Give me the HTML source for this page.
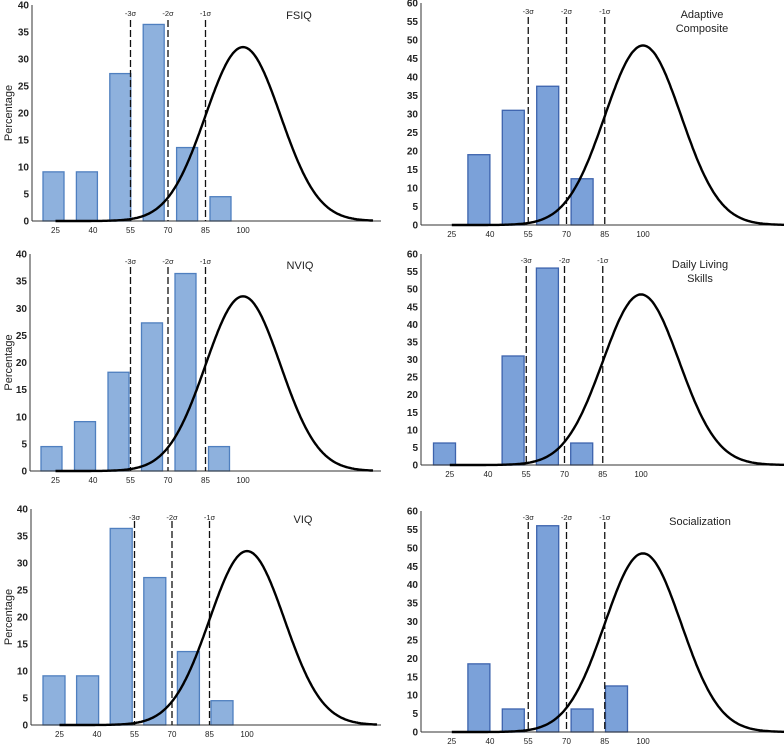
<!DOCTYPE html>
<html><head><meta charset="utf-8">
<style>
html,body{margin:0;padding:0;background:#fff;}
svg{display:block;font-family:"Liberation Sans",sans-serif;}
</style></head>
<body>
<svg id="chart" width="784" height="744" viewBox="0 0 784 744" xmlns="http://www.w3.org/2000/svg"></svg>
<script>
const categories = ["<25","25-40","40-55","55-70","70-85","85-100"];
const fsiqValues = [9.1, 9.1, 27.3, 36.4, 13.6, 4.5];
const nviqValues = [4.5, 9.1, 18.2, 27.3, 36.4, 4.5];
const viqValues = [9.1, 9.1, 36.4, 27.3, 13.6, 4.5];
const adaptiveValues = [0, 19, 31, 37.5, 12.5, 0];
const dailyLivingValues = [6.25, 0, 31, 56, 6.25, 0];
const socializationValues = [0, 18.5, 6.25, 56, 6.25, 12.5];
const xTickLabels = [25, 40, 55, 70, 85, 100];
const sigmaValues = [55, 70, 85];
const sigmaLabels = ["-3σ", "-2σ", "-1σ"];
const curveMean = 100, curveSd = 15;
const leftCurvePeak = 32.2, rightCurvePeak = 48.5;
const leftYMax = 40, rightYMax = 60;

const panels = [
 {id:"fsiq", title:["FSIQ"], vals:fsiqValues, ymax:leftYMax, peak:leftCurvePeak, ox:32, y0:221, yt:5, mpx:243, k:2.5, bs:43, st:33.4, bw:21, dt:20, sl:16, tx:299, ty:19, ae:381, left:true},
 {id:"nviq", title:["NVIQ"], vals:nviqValues, ymax:leftYMax, peak:leftCurvePeak, ox:30, y0:471, yt:254, mpx:243, k:2.5, bs:41, st:33.5, bw:21, dt:267, sl:264, tx:300, ty:269, ae:381, left:true},
 {id:"viq", title:["VIQ"], vals:viqValues, ymax:leftYMax, peak:leftCurvePeak, ox:31, y0:725, yt:509, mpx:247, k:2.5, bs:43, st:33.6, bw:22, dt:521, sl:520, tx:303, ty:523, ae:381, left:true},
 {id:"adaptive", title:["Adaptive","Composite"], vals:adaptiveValues, ymax:rightYMax, peak:rightCurvePeak, ox:421, y0:225, yt:3, mpx:643, k:2.55, bs:433.5, st:34.4, bw:22, dt:17, sl:14, tx:702, ty:18, ae:775, left:false},
 {id:"daily-living", title:["Daily Living","Skills"], vals:dailyLivingValues, ymax:rightYMax, peak:rightCurvePeak, ox:421, y0:465, yt:254, mpx:641, k:2.55, bs:433.5, st:34.3, bw:22, dt:266, sl:263, tx:700, ty:268, ae:775, left:false},
 {id:"socialization", title:["Socialization"], vals:socializationValues, ymax:rightYMax, peak:rightCurvePeak, ox:421, y0:732, yt:511, mpx:643, k:2.55, bs:433.5, st:34.4, bw:22, dt:522, sl:520, tx:700, ty:525, ae:775, left:false}
];

const NS = "http://www.w3.org/2000/svg";
const svg = document.getElementById("chart");
function mk(tag, attrs, parent){
  const e = document.createElementNS(NS, tag);
  for (const a in attrs) e.setAttribute(a, attrs[a]);
  (parent||svg).appendChild(e);
  return e;
}

panels.forEach(p => {
  const g = mk("g", {});
  
  
  const y = v => p.y0 - (v / p.ymax) * (p.y0 - p.yt);
  const x = iq => p.mpx + (iq - curveMean) * p.k;
  const fill = p.left ? "#8eb1dd" : "#7ba1d9";
  const stroke = p.left ? "#4f7fbf" : "#3d63ad";

  // bars
  p.vals.forEach((v, i) => {
    if (v <= 0) return;
    const r = mk("rect", {x: p.bs + i*p.st, y: y(v), width: p.bw, height: p.y0 - y(v), fill: fill, stroke: stroke, "stroke-width": 1.3}, g);
    
    
  });

  // axes
  const ya = mk("line", {x1:p.ox, y1:p.yt, x2:p.ox, y2:p.y0, stroke:"#333", "stroke-width":1}, g);
  
  
  const xa = mk("line", {x1:p.ox, y1:p.y0, x2:p.ae, y2:p.y0, stroke:"#333", "stroke-width":1}, g);
  
  

  for (let v = 0; v <= p.ymax; v += 5) {
    const t = mk("text", {x:p.ox - 3, y:y(v) + 3.5, "text-anchor":"end", "font-size":10, "font-weight":"bold", fill:"#222"}, g);
    t.textContent = v;
    
    
  }
  xTickLabels.forEach(v => {
    const t = mk("text", {x:x(v), y:p.y0 + 12, "text-anchor":"middle", "font-size":8, fill:"#222"}, g);
    t.textContent = v;
    
    
  });

  // sigma lines
  sigmaValues.forEach((v, i) => {
    const l = mk("line", {x1:x(v), y1:p.dt, x2:x(v), y2:p.y0, stroke:"#111", "stroke-width":1.3, "stroke-dasharray":"7,3"}, g);
    
    
    const t = mk("text", {x:x(v), y:p.sl, "text-anchor":"middle", "font-size":7.5, fill:"#222"}, g);
    t.textContent = sigmaLabels[i];
    
    
  });

  // normal curve
  let d = "";
  const xmin = p.left ? 25 : 25, xmax = p.left ? 152 : 162;
  for (let iq = xmin; iq <= xmax; iq += 0.5) {
    const v = p.peak * Math.exp(-0.5 * Math.pow((iq - curveMean)/curveSd, 2));
    d += (d ? "L" : "M") + x(iq).toFixed(1) + "," + y(v).toFixed(1);
  }
  const c = mk("path", {d:d, fill:"none", stroke:"#000", "stroke-width":2.4}, g);
  
  

  // title
  p.title.forEach((line, i) => {
    const t = mk("text", {x:p.tx, y:p.ty + i*14, "text-anchor":"middle", "font-size":11, fill:"#222"}, g);
    t.textContent = line;
    
    
  });

  if (p.left) {
    const cy = (p.y0 + p.yt) / 2;
    const t = mk("text", {x:12, y:cy, "text-anchor":"middle", "font-size":11, fill:"#222", transform:"rotate(-90 12 " + cy + ")"}, g);
    t.textContent = "Percentage";
    
    
  }
});
</script>
</body></html>
